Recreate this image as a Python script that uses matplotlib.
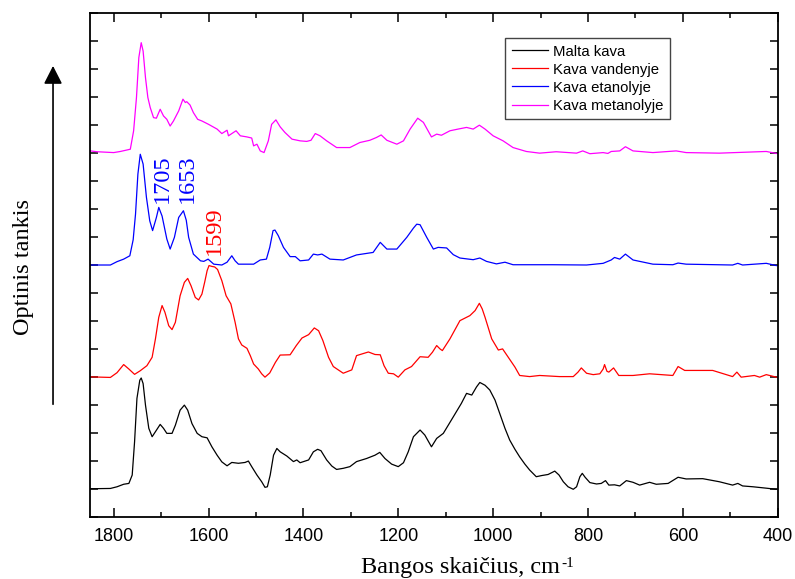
import matplotlib
matplotlib.use("Agg")
import matplotlib.pyplot as plt
from matplotlib.ticker import MultipleLocator, NullFormatter
from matplotlib.patches import FancyArrowPatch

# --- spectra (wavenumber, cm-1 / relative absorbance before stacking) ---
malta_wn = [1849, 1807, 1793, 1779, 1768, 1761, 1756, 1751, 1745, 1742, 1738, 1733, 1726, 1719,
            1712, 1702, 1695, 1688, 1677, 1670, 1660, 1651, 1644, 1635, 1624, 1614, 1603, 1593,
            1582, 1572, 1561, 1551, 1537, 1523, 1516, 1509, 1498, 1488, 1481, 1476, 1470, 1463,
            1456, 1449, 1435, 1421, 1414, 1407, 1389, 1379, 1370, 1363, 1351, 1340, 1330, 1316,
            1302, 1288, 1267, 1249, 1239, 1228, 1214, 1200, 1189, 1179, 1168, 1154, 1144, 1130,
            1119, 1105, 1084, 1067, 1056, 1045, 1035, 1028, 1017, 1007, 996, 986, 975, 965, 954,
            944, 933, 923, 909, 898, 884, 870, 861, 852, 842, 831, 824, 817, 812, 806, 796, 782,
            772, 763, 756, 744, 733, 719, 705, 691, 670, 656, 631, 610, 593, 558, 523, 495, 484,
            474, 452, 424, 403]
malta_a = [0.0, 0.01, 0.07, 0.16, 0.19, 0.49, 1.68, 3.23, 3.88, 3.96, 3.76, 2.99, 2.16, 1.86,
           2.04, 2.30, 2.16, 1.98, 1.98, 2.27, 2.81, 2.99, 2.81, 2.33, 1.98, 1.86, 1.82, 1.50,
           1.20, 0.96, 0.82, 0.94, 0.91, 0.94, 0.99, 0.79, 0.49, 0.25, 0.05, 0.07, 0.49, 1.20,
           1.44, 1.32, 1.17, 0.97, 1.03, 0.93, 1.03, 1.32, 1.41, 1.36, 1.03, 0.81, 0.69, 0.73,
           0.79, 0.97, 1.08, 1.20, 1.30, 1.08, 0.88, 0.79, 0.93, 1.32, 1.86, 2.10, 1.92, 1.50,
           1.80, 1.98, 2.57, 3.05, 3.41, 3.35, 3.64, 3.80, 3.70, 3.53, 3.17, 2.69, 2.16, 1.74,
           1.41, 1.14, 0.88, 0.67, 0.43, 0.47, 0.51, 0.63, 0.49, 0.25, 0.07, -0.02, 0.07, 0.43,
           0.55, 0.41, 0.22, 0.17, 0.19, 0.29, 0.13, 0.14, 0.10, 0.29, 0.23, 0.13, 0.23, 0.16,
           0.19, 0.41, 0.35, 0.36, 0.25, 0.13, 0.19, 0.10, 0.07, 0.02, -0.02]

vanduo_wn = [1849, 1807, 1793, 1779, 1768, 1756, 1744, 1730, 1719, 1712, 1705, 1698, 1692, 1684,
             1677, 1670, 1660, 1651, 1644, 1637, 1628, 1621, 1614, 1608, 1603, 1599, 1593, 1587,
             1581, 1572, 1563, 1553, 1544, 1537, 1530, 1519, 1512, 1505, 1495, 1488, 1481, 1471,
             1459, 1449, 1428, 1415, 1403, 1389, 1377, 1368, 1359, 1347, 1337, 1316, 1298, 1288,
             1263, 1249, 1238, 1230, 1221, 1210, 1200, 1186, 1172, 1154, 1137, 1128, 1119, 1112,
             1107, 1091, 1070, 1049, 1038, 1029, 1023, 1017, 1003, 989, 980, 968, 954, 944, 923,
             902, 860, 831, 821, 814, 803, 789, 775, 768, 765, 760, 756, 746, 735, 705, 670, 621,
             610, 596, 537, 495, 486, 477, 449, 438, 424, 403]
vanduo_a = [0.0, -0.02, 0.15, 0.44, 0.28, 0.09, 0.22, 0.40, 0.70, 1.36, 2.13, 2.55, 2.31, 1.83,
            1.69, 1.95, 2.90, 3.38, 3.52, 3.26, 2.84, 2.75, 2.96, 3.40, 3.80, 3.98, 3.95, 3.93,
            3.84, 3.44, 2.90, 2.61, 1.95, 1.36, 1.14, 1.02, 0.76, 0.46, 0.28, 0.11, -0.01, 0.14,
            0.52, 0.78, 0.79, 1.12, 1.39, 1.51, 1.75, 1.65, 1.30, 0.70, 0.37, 0.13, 0.25, 0.76,
            0.89, 0.80, 0.79, 0.40, 0.13, 0.11, -0.01, 0.25, 0.37, 0.72, 0.70, 0.88, 1.12, 1.00,
            0.94, 1.36, 2.01, 2.19, 2.37, 2.63, 2.43, 2.13, 1.36, 0.96, 1.00, 0.70, 0.35, 0.05,
            0.01, 0.05, 0.01, 0.01, 0.17, 0.32, 0.13, 0.08, 0.11, 0.28, 0.44, 0.20, 0.17, 0.32,
            0.05, 0.05, 0.11, 0.05, 0.37, 0.23, 0.23, 0.01, 0.17, -0.01, 0.05, -0.01, 0.08, -0.01]

etanolis_wn = [1849, 1807, 1793, 1779, 1766, 1759, 1754, 1749, 1744, 1738, 1731, 1724, 1718,
               1710, 1705, 1698, 1688, 1681, 1672, 1663, 1653, 1647, 1642, 1632, 1617, 1610,
               1601, 1589, 1572, 1561, 1551, 1544, 1537, 1505, 1491, 1478, 1471, 1464, 1460,
               1453, 1442, 1428, 1417, 1407, 1389, 1379, 1370, 1361, 1344, 1316, 1288, 1253,
               1238, 1224, 1203, 1182, 1168, 1161, 1154, 1140, 1126, 1116, 1098, 1084, 1070,
               1042, 1028, 1014, 993, 975, 958, 874, 803, 768, 751, 744, 733, 721, 705, 663,
               621, 610, 593, 495, 484, 474, 424, 403]
etanolis_a = [0.0, 0.0, 0.12, 0.21, 0.33, 0.90, 1.82, 3.25, 3.96, 3.61, 2.42, 1.58, 1.23,
              1.70, 2.06, 1.75, 0.93, 0.57, 0.99, 1.70, 1.94, 1.60, 0.99, 0.39, 0.15, 0.13,
              0.21, 0.03, 0.0, 0.10, 0.33, 0.15, 0.03, 0.03, 0.18, 0.21, 0.63, 1.23, 1.25,
              1.05, 0.63, 0.30, 0.30, 0.15, 0.18, 0.39, 0.36, 0.39, 0.21, 0.18, 0.36, 0.45,
              0.81, 0.57, 0.57, 0.99, 1.32, 1.46, 1.44, 0.99, 0.57, 0.63, 0.61, 0.37, 0.25,
              0.19, 0.25, 0.13, 0.04, 0.10, 0.01, 0.01, 0.0, 0.06, 0.18, 0.27, 0.21, 0.39,
              0.18, 0.03, 0.01, 0.07, 0.03, 0.0, 0.06, 0.0, 0.06, -0.02]

metanolis_wn = [1849, 1835, 1800, 1786, 1765, 1758, 1752, 1747, 1742, 1738, 1733, 1728, 1723,
                1716, 1710, 1702, 1695, 1688, 1681, 1674, 1663, 1654, 1649, 1646, 1639, 1632,
                1623, 1614, 1600, 1582, 1572, 1561, 1558, 1551, 1542, 1533, 1519, 1509, 1505,
                1498, 1491, 1483, 1474, 1467, 1458, 1449, 1439, 1424, 1407, 1393, 1384, 1375,
                1365, 1351, 1330, 1302, 1281, 1260, 1246, 1236, 1224, 1203, 1189, 1175, 1159,
                1147, 1130, 1119, 1109, 1091, 1074, 1056, 1042, 1029, 1017, 1000, 979, 958, 930,
                902, 867, 824, 811, 796, 768, 758, 751, 733, 721, 705, 663, 614, 593, 523, 424,
                403]
metanolis_a = [0.08, 0.05, 0.02, 0.06, 0.14, 0.80, 1.99, 3.42, 3.95, 3.65, 2.70, 1.99, 1.63,
               1.27, 1.25, 1.57, 1.33, 1.21, 0.97, 1.15, 1.51, 1.93, 1.81, 1.84, 1.72, 1.45,
               1.21, 1.15, 1.03, 0.86, 0.70, 0.82, 0.62, 0.70, 0.80, 0.62, 0.58, 0.54, 0.26,
               0.32, 0.08, 0.02, 0.44, 1.03, 1.19, 0.94, 0.74, 0.50, 0.44, 0.42, 0.46, 0.70,
               0.62, 0.44, 0.20, 0.20, 0.38, 0.46, 0.56, 0.65, 0.46, 0.32, 0.44, 0.86, 1.25,
               1.10, 0.58, 0.68, 0.64, 0.80, 0.86, 0.92, 0.86, 1.00, 0.86, 0.62, 0.44, 0.20,
               0.06, 0.0, 0.05, 0.0, 0.08, -0.02, 0.02, -0.01, 0.06, 0.08, 0.23, 0.08, 0.02,
               0.08, 0.02, 0.0, 0.06, -0.01]

series_names = ["Malta kava", "Kava vandenyje", "Kava etanolyje", "Kava metanolyje"]
series_colors = ["#000000", "#ff0000", "#0000ff", "#ff00ff"]
stack_offsets = [0, 4, 8, 12]

# labelled band positions (cm-1) and the trace they belong to
band_labels = [1705, 1653, 1599]
band_colors = ["#0000ff", "#0000ff", "#ff0000"]
band_text_y = [10.2, 10.2, 8.35]

serif = ["Liberation Serif", "DejaVu Serif"]
sans = ["Liberation Sans", "DejaVu Sans"]

fig = plt.figure(figsize=(7.95, 5.79), dpi=100)
ax = fig.add_axes([0.1132, 0.1076, 0.8650, 0.8694])

spectra = [(malta_wn, malta_a), (vanduo_wn, vanduo_a),
           (etanolis_wn, etanolis_a), (metanolis_wn, metanolis_a)]
for (wn, a), name, col, off in zip(spectra, series_names, series_colors, stack_offsets):
    ax.plot(wn, [v + off for v in a], color=col, lw=0.9, label=name,
            solid_joinstyle="round")

# band annotations next to the peaks they mark
band_dx = [-7, -8, -11]
for wn, col, ty, dx in zip(band_labels, band_colors, band_text_y, band_dx):
    ax.text(wn + dx, ty, str(wn), rotation=90, ha="center", va="bottom",
            color=col, fontsize=17.5, family=serif)

ax.set_xlim(1850, 400)
ax.set_ylim(-1, 17)
ax.xaxis.set_major_locator(MultipleLocator(200))
ax.xaxis.set_minor_locator(MultipleLocator(100))
ax.yaxis.set_major_locator(MultipleLocator(1))
ax.yaxis.set_major_formatter(NullFormatter())

ax.tick_params(axis="x", which="major", direction="in", length=6.5, width=1.1,
               top=True, labelsize=13, pad=8)
ax.tick_params(axis="x", which="minor", direction="in", length=3.3, width=1.1, top=True)
ax.tick_params(axis="y", which="major", direction="in", length=6, width=1.1, right=True)
for lab in ax.get_xticklabels():
    lab.set_family(sans)
for sp in ax.spines.values():
    sp.set_linewidth(1.3)

leg = ax.legend(loc="upper left", bbox_to_anchor=(0.6035, 0.951), borderaxespad=0,
                prop={"family": sans, "size": 10.7}, handlelength=2.45,
                handletextpad=0.3, labelspacing=0.27, borderpad=0.45,
                fancybox=False, framealpha=1, edgecolor="#444444")
leg.get_frame().set_linewidth(1.0)

# axis titles; the unit exponent is set as a small raised text after "cm"
xlab = fig.text(0.5795, 0.0104, "Bangos skaičius, cm", ha="center", va="baseline",
                fontsize=17.5, family=serif)
ax.annotate("-1", xy=(1.0, 0.98), xycoords=xlab, xytext=(1, 0),
            textcoords="offset points", ha="left", va="top",
            fontsize=11, family=serif, annotation_clip=False)
fig.text(0.029, 0.539, "Optinis tankis", rotation=90, ha="center", va="center",
         fontsize=17.5, family=serif)

arrow = FancyArrowPatch((0.0667, 0.297), (0.0667, 0.891), transform=fig.transFigure,
                        arrowstyle="-|>,head_length=0.55,head_width=0.28",
                        mutation_scale=20, lw=1.2, color="black")
fig.patches.append(arrow)

fig.savefig("out.png", dpi=100)
